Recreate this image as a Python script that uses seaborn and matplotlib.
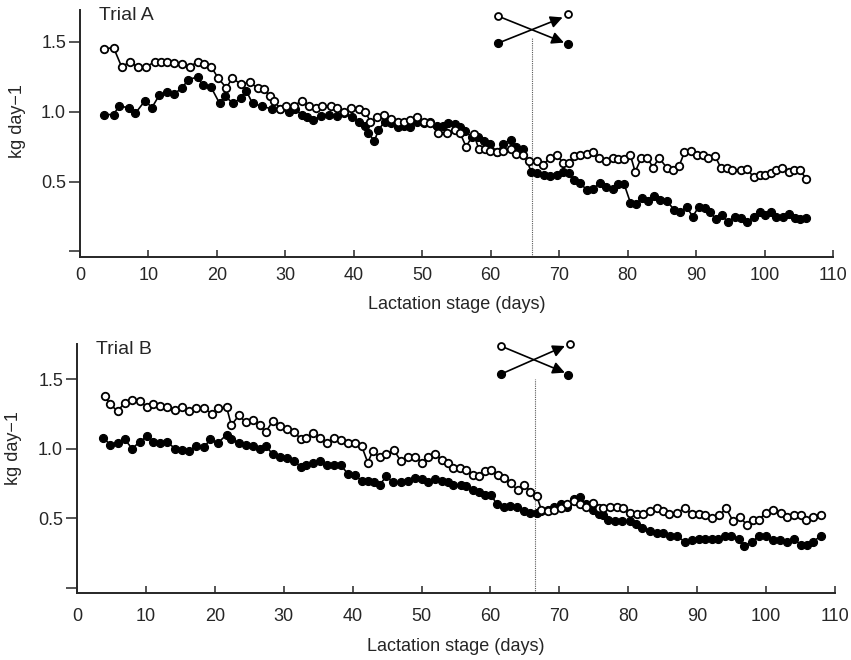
import matplotlib
matplotlib.use("Agg")
import matplotlib.pyplot as plt
import matplotlib.transforms as mtransforms
import numpy as np
import pandas as pd
import seaborn as sns

# ---------------- data ----------------
a_open_days = [3.5, 4.9, 6.1, 7.3, 8.4, 9.7, 10.9, 11.9, 12.7, 13.8, 14.9, 16.0, 17.2, 18.1, 19.2, 20.2, 21.4, 22.2, 23.5, 24.8,
               26.0, 26.9, 27.8, 28.4, 29.2, 30.1, 31.2, 32.4, 33.4, 34.5, 35.4, 36.6, 37.6, 38.6, 39.6, 40.8, 41.7,
               42.4, 43.4, 44.4, 45.4, 46.4, 47.4, 48.2, 49.2, 50.2, 51.1, 52.3, 53.6, 54.8, 55.5, 56.4, 57.5, 58.3, 59.2, 59.9,
               60.9, 61.8, 62.9, 63.7, 64.7, 65.6, 66.8, 67.6, 68.7, 69.7, 70.6, 71.4, 72.2, 73.1, 74.0, 74.9, 75.8, 76.9, 77.8,
               78.6, 79.5, 80.4, 81.1, 82.0, 82.9, 83.7, 84.6, 85.7, 86.6, 87.5, 88.3, 89.2, 90.1, 91.0, 91.8, 92.8, 93.6, 94.5,
               95.3, 96.5, 97.5, 98.4, 99.3, 100.1, 100.9, 101.7, 102.6, 103.5, 104.3, 105.2, 106.1]
a_open_vals = [1.45, 1.46, 1.32, 1.36, 1.32, 1.32, 1.36, 1.36, 1.36, 1.35, 1.34, 1.32, 1.36, 1.34, 1.32, 1.24, 1.17, 1.24, 1.20, 1.21,
               1.17, 1.16, 1.11, 1.08, 1.02, 1.04, 1.04, 1.08, 1.04, 1.03, 1.04, 1.04, 1.03, 1.00, 1.03, 1.02, 1.00,
               0.93, 0.96, 0.98, 0.95, 0.93, 0.93, 0.94, 0.96, 0.93, 0.92, 0.85, 0.85, 0.87, 0.85, 0.75, 0.84, 0.73, 0.73, 0.72,
               0.71, 0.72, 0.73, 0.70, 0.69, 0.65, 0.65, 0.62, 0.67, 0.69, 0.63, 0.63, 0.68, 0.69, 0.70, 0.71, 0.67, 0.65, 0.67,
               0.66, 0.66, 0.69, 0.57, 0.67, 0.67, 0.60, 0.67, 0.60, 0.58, 0.61, 0.71, 0.72, 0.69, 0.69, 0.67, 0.68, 0.60, 0.60,
               0.58, 0.58, 0.59, 0.53, 0.55, 0.55, 0.56, 0.58, 0.60, 0.57, 0.58, 0.58, 0.52]
a_fill_days = [3.5, 4.9, 5.7, 7.1, 8.1, 9.5, 10.5, 11.6, 12.7, 13.8, 14.9, 15.8, 17.2, 17.9, 19.1, 20.4, 21.2, 22.4, 23.5, 24.3,
               25.2, 26.6, 28.0, 29.2, 30.5, 31.4, 32.4, 33.2, 34.1, 35.2, 36.4, 37.6, 38.6, 39.7, 40.8, 41.7,
               42.1, 43.0, 43.6, 44.5, 45.4, 46.4, 47.4, 48.2, 49.2, 50.2, 51.1, 52.1, 53.1, 53.8, 54.8, 55.5, 56.2, 57.3, 58.2, 59.0,
               59.9, 60.9, 61.8, 62.9, 63.7, 64.7, 65.9, 66.8, 67.8, 68.6, 69.7, 70.6, 71.4, 72.2, 73.1, 74.0, 75.0, 75.9, 76.8, 77.8,
               78.6, 79.5, 80.4, 81.2, 82.1, 83.0, 83.9, 84.8, 85.7, 86.8, 87.7, 88.6, 89.5, 90.4, 91.3, 92.1, 92.9, 93.8, 94.6, 95.7,
               96.5, 97.5, 98.4, 99.3, 100.1, 100.9, 101.7, 102.7, 103.5, 104.4, 105.2, 106.1]
a_fill_vals = [0.98, 0.98, 1.04, 1.03, 0.99, 1.08, 1.03, 1.12, 1.14, 1.13, 1.17, 1.23, 1.25, 1.19, 1.18, 1.06, 1.11, 1.06, 1.10, 1.15,
               1.06, 1.04, 1.02, 1.02, 1.00, 1.02, 0.98, 0.96, 0.94, 0.97, 0.98, 0.97, 0.99, 0.96, 0.93, 0.90,
               0.85, 0.79, 0.87, 0.93, 0.92, 0.89, 0.90, 0.89, 0.93, 0.92, 0.93, 0.90, 0.90, 0.92, 0.91, 0.89, 0.86, 0.82, 0.82, 0.79,
               0.77, 0.71, 0.77, 0.80, 0.75, 0.73, 0.57, 0.56, 0.55, 0.54, 0.55, 0.57, 0.56, 0.51, 0.49, 0.44, 0.45, 0.49, 0.46, 0.45,
               0.48, 0.48, 0.35, 0.34, 0.38, 0.36, 0.40, 0.37, 0.36, 0.30, 0.28, 0.32, 0.25, 0.32, 0.31, 0.28, 0.23, 0.26, 0.21, 0.25,
               0.24, 0.21, 0.25, 0.28, 0.26, 0.28, 0.25, 0.25, 0.27, 0.24, 0.23, 0.24]

b_open_days = [4.0, 4.8, 5.9, 6.9, 8.0, 9.1, 10.2, 11.1, 12.0, 13.1, 14.2, 15.3, 16.3, 17.3, 18.5, 19.6, 20.5, 21.7, 22.4, 23.5,
               24.5, 25.6, 26.5, 27.4, 28.4, 29.5, 30.5, 31.5, 32.5, 33.3, 34.3, 35.3, 36.3, 37.3, 38.3, 39.3, 40.4, 41.3,
               42.2, 42.9, 43.9, 44.9, 46.0, 47.0, 48.0, 49.1, 50.1, 51.0, 52.0, 52.9, 53.8, 54.6, 55.6, 56.5, 57.4, 58.4, 59.2, 60.1,
               61.1, 62.0, 63.0, 64.0, 64.9, 65.8,
               66.7, 67.4, 68.3, 69.2, 70.2, 71.1, 72.1, 73.0, 73.9, 74.9, 75.8,
               76.3, 77.3, 78.3, 79.3, 80.3, 81.2, 82.2, 83.1, 84.1, 85.0, 85.9, 87.1, 88.2, 89.2, 90.2, 91.2, 92.1, 93.2, 94.2, 95.2,
               96.2, 97.2, 98.1, 99.0, 100.0, 101.0, 102.1, 103.0, 104.0, 105.0, 105.8, 106.8, 107.9]
b_open_vals = [1.38, 1.32, 1.27, 1.33, 1.35, 1.34, 1.30, 1.32, 1.31, 1.30, 1.28, 1.30, 1.27, 1.29, 1.29, 1.25, 1.29, 1.30, 1.17, 1.24,
               1.19, 1.21, 1.17, 1.12, 1.20, 1.16, 1.14, 1.12, 1.07, 1.08, 1.11, 1.08, 1.04, 1.08, 1.06, 1.04, 1.04, 1.02,
               0.90, 0.98, 0.94, 0.96, 0.99, 0.91, 0.94, 0.94, 0.90, 0.94, 0.96, 0.92, 0.90, 0.86, 0.86, 0.85, 0.81, 0.80, 0.84, 0.85,
               0.81, 0.79, 0.75, 0.70, 0.74, 0.69,
               0.66, 0.56, 0.55, 0.56, 0.57, 0.60, 0.62, 0.60, 0.58, 0.61, 0.57,
               0.57, 0.58, 0.58, 0.57, 0.54, 0.53, 0.53, 0.55, 0.57, 0.55, 0.53, 0.54, 0.57, 0.53, 0.53, 0.52, 0.50, 0.52, 0.57, 0.48,
               0.51, 0.45, 0.49, 0.49, 0.54, 0.56, 0.54, 0.51, 0.52, 0.52, 0.49, 0.51, 0.52]
b_fill_days = [3.8, 4.8, 5.9, 6.9, 8.0, 9.1, 10.2, 11.1, 12.0, 13.1, 14.2, 15.3, 16.3, 17.3, 18.5, 19.3, 20.4, 21.7, 22.4, 23.5,
               24.5, 25.6, 26.5, 27.4, 28.4, 29.5, 30.5, 31.5, 32.5, 33.3, 34.3, 35.3, 36.3, 37.3, 38.3, 39.3, 40.3, 41.3,
               42.2, 43.1, 43.9, 44.9, 45.8, 47.0, 48.0, 49.1, 50.1, 51.0, 52.0, 52.9, 53.8, 54.6, 55.7, 56.5, 57.4, 58.4, 59.2, 60.1,
               60.9, 61.9, 62.9, 63.8, 64.9, 65.8,
               66.7, 67.4, 68.3, 69.2, 70.2, 71.1, 72.1, 73.0, 73.9, 74.9, 75.8,
               76.3, 77.1, 78.1, 79.1, 80.2, 81.1, 82.0, 83.1, 84.1, 85.1, 86.1, 87.1, 88.2, 89.2, 90.2, 91.2, 92.2, 93.0, 94.1, 94.9,
               96.0, 96.8, 98.0, 98.9, 100.0, 101.0, 102.0, 103.0, 104.0, 105.0, 105.9, 106.8, 107.9]
b_fill_vals = [1.08, 1.03, 1.04, 1.07, 1.00, 1.05, 1.09, 1.05, 1.04, 1.05, 1.00, 0.99, 0.98, 1.02, 1.01, 1.07, 1.04, 1.10, 1.07, 1.04,
               1.03, 1.02, 1.00, 1.02, 0.96, 0.94, 0.93, 0.91, 0.87, 0.88, 0.90, 0.91, 0.88, 0.88, 0.88, 0.82, 0.81, 0.77,
               0.77, 0.76, 0.74, 0.80, 0.76, 0.76, 0.77, 0.79, 0.78, 0.76, 0.78, 0.77, 0.76, 0.74, 0.74, 0.73, 0.70, 0.69, 0.67, 0.67,
               0.60, 0.58, 0.59, 0.58, 0.55, 0.54,
               0.54, 0.55, 0.56, 0.58, 0.60, 0.58, 0.64, 0.65, 0.60, 0.56, 0.53,
               0.52, 0.49, 0.48, 0.48, 0.48, 0.46, 0.43, 0.41, 0.39, 0.39, 0.37, 0.37, 0.33, 0.34, 0.35, 0.35, 0.35, 0.35, 0.37, 0.37,
               0.35, 0.30, 0.33, 0.37, 0.37, 0.34, 0.34, 0.33, 0.35, 0.31, 0.31, 0.33, 0.37]

switch_day_a = 66.1
switch_day_b = 66.4
panel_titles = ["Trial A", "Trial B"]
x_ticks = [0, 10, 20, 30, 40, 50, 60, 70, 80, 90, 100, 110]
y_ticks = [0.0, 0.5, 1.0, 1.5]
y_tick_labels = ["", "0.5", "1.0", "1.5"]
x_label = "Lactation stage (days)"
y_label = "kg day\u22121"

# ---------------- style ----------------
sns.set_style("ticks")
plt.rcParams["font.family"] = ["Liberation Sans", "DejaVu Sans"]

fig = plt.figure(figsize=(8.51, 6.6), dpi=100)
ax_a = fig.add_axes([80 / 851, 1 - 257 / 660, 753 / 851, 247 / 660])
ax_b = fig.add_axes([77 / 851, 1 - 593 / 660, 758 / 851, 249 / 660])


def draw_panel(ax, od, ov, fd, fv, title, switch, ylim, ylab_y, sym, xpad, labpad):
    df_f = pd.DataFrame({"day": fd, "kg": fv})
    df_o = pd.DataFrame({"day": od, "kg": ov})
    sns.lineplot(data=df_f, x="day", y="kg", ax=ax, color="black", lw=1.2,
                 marker="o", markersize=5.8, markerfacecolor="black",
                 markeredgecolor="black", markeredgewidth=0.8,
                 sort=False, estimator=None, zorder=3)
    sns.lineplot(data=df_o, x="day", y="kg", ax=ax, color="black", lw=1.2,
                 marker="o", markersize=5.4, markerfacecolor="white",
                 markeredgecolor="black", markeredgewidth=1.3,
                 sort=False, estimator=None, zorder=4)

    ax.set_xlim(0, 110)
    ax.set_ylim(*ylim)
    ax.set_xticks(x_ticks)
    ax.set_xticklabels([str(t) for t in x_ticks], fontsize=13)
    ax.set_yticks(y_ticks)
    ax.set_yticklabels(y_tick_labels, fontsize=13)
    ax.tick_params(axis="y", direction="out", length=8, width=1.1, pad=2)
    ax.tick_params(axis="x", direction="in", length=5, width=1.1, pad=xpad)
    for s in ["top", "right"]:
        ax.spines[s].set_visible(False)
    for s in ["left", "bottom"]:
        ax.spines[s].set_linewidth(1.4)
    ax.set_xlabel(x_label, fontsize=13, labelpad=labpad)
    ax.set_ylabel(y_label, fontsize=13)
    ax.yaxis.set_label_coords(-0.072, ylab_y)
    ax.text(0.025, 1.012, title, transform=ax.transAxes, fontsize=14, va="top", ha="left")

    # switch-over line
    ax.axvline(switch, ymin=0, ymax=sym["line_top"], color="0.35", lw=0.8,
               ls=(0, (1, 1)), zorder=2)

    # crossover symbol
    trans = mtransforms.blended_transform_factory(ax.transData, ax.transAxes)
    (lx_o, ly_o), (lx_f, ly_f), (rx_o, ry_o), (rx_f, ry_f), tip_up, tip_dn = sym["pts"]
    ax.plot([switch + lx_o], [ly_o], "o", ms=5, mfc="white", mec="black", mew=1.3,
            transform=trans, clip_on=False, zorder=6)
    ax.plot([switch + lx_f], [ly_f], "o", ms=5.6, mfc="black", mec="black",
            transform=trans, clip_on=False, zorder=6)
    ax.plot([switch + rx_o], [ry_o], "o", ms=5, mfc="white", mec="black", mew=1.3,
            transform=trans, clip_on=False, zorder=6)
    ax.plot([switch + rx_f], [ry_f], "o", ms=5.6, mfc="black", mec="black",
            transform=trans, clip_on=False, zorder=6)
    ax.annotate("", xy=(switch + tip_up[0], tip_up[1]), xytext=(switch + lx_f, ly_f),
                xycoords=trans, textcoords=trans, annotation_clip=False,
                arrowprops=dict(arrowstyle="-|>", color="black", lw=1.2,
                                mutation_scale=18, shrinkA=2, shrinkB=0))
    ax.annotate("", xy=(switch + tip_dn[0], tip_dn[1]), xytext=(switch + lx_o, ly_o),
                xycoords=trans, textcoords=trans, annotation_clip=False,
                arrowprops=dict(arrowstyle="-|>", color="black", lw=1.2,
                                mutation_scale=18, shrinkA=2, shrinkB=0))


sym_a = {"line_top": 0.885,
         "pts": [(-5.1, 0.976), (-5.1, 0.865), (5.2, 0.984), (5.2, 0.862), (4.4, 0.970), (4.6, 0.868)]}
sym_b = {"line_top": 0.858,
         "pts": [(-4.9, 0.992), (-4.8, 0.880), (5.1, 1.0), (4.9, 0.876), (4.4, 0.992), (4.4, 0.885)]}

draw_panel(ax_a, a_open_days, a_open_vals, a_fill_days, a_fill_vals, panel_titles[0],
           switch_day_a, (-0.040, 1.729), 0.55, sym_a, 7, 9)
draw_panel(ax_b, b_open_days, b_open_vals, b_fill_days, b_fill_vals, panel_titles[1],
           switch_day_b, (-0.039, 1.754), 0.584, sym_b, 11, 9)

fig.savefig("out.png", dpi=100)
